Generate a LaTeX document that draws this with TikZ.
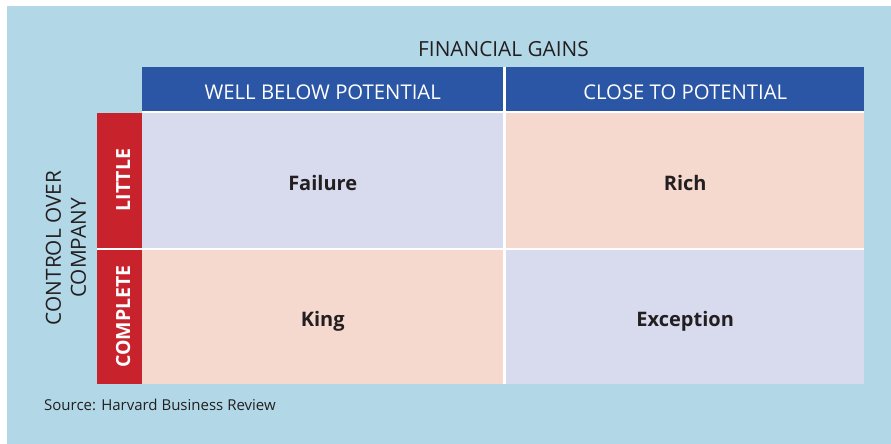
\documentclass[tikz,border=0pt]{standalone}
\usepackage{fontspec}
\setmainfont{Open Sans}
\definecolor{panelblue}{HTML}{B2D8E7}
\definecolor{headblue}{HTML}{2B56A6}
\definecolor{rowred}{HTML}{C8232C}
\definecolor{lavender}{HTML}{D8DBEE}
\definecolor{peach}{HTML}{F5D9CE}
\definecolor{ink}{HTML}{231F20}
\tikzset{
  box/.style={rectangle, inner sep=0pt, anchor=north west},
  celltext/.style={inner sep=0pt, anchor=base, text=ink, font=\fontsize{20}{24}\selectfont\bfseries},
  headtext/.style={inner sep=0pt, anchor=base, text=white, font=\fontsize{20.3}{24}\selectfont},
  rowtext/.style={inner sep=0pt, anchor=base, rotate=90, text=white, font=\fontsize{19.5}{22}\selectfont\bfseries},
  axislabel/.style={inner sep=0pt, text=ink, font=\fontsize{20.8}{25}\selectfont, align=center}
}
\begin{document}
\begin{tikzpicture}[x=1pt,y=-1pt]
\useasboundingbox (0,0) rectangle (891,444);
\fill[white] (0,0) rectangle (891,444);
\fill[panelblue] (7,6) rectangle (891,444);
% white rules between the blocks of the grid
\fill[white] (142,67) rectangle (864,384);
\fill[white] (97,113) rectangle (142,384);

% column headers
\node[box, fill=headblue, minimum width=361pt, minimum height=44pt] (h1) at (142,67) {};
\node[box, fill=headblue, minimum width=358pt, minimum height=44pt] (h2) at (506,67) {};
% row headers
\node[box, fill=rowred, minimum width=45pt, minimum height=135pt] (r1) at (97,113) {};
\node[box, fill=rowred, minimum width=45pt, minimum height=134pt] (r2) at (97,250) {};
% quadrant cells
\node[box, fill=lavender, minimum width=361pt, minimum height=135pt] (c11) at (142,113) {};
\node[box, fill=peach,    minimum width=358pt, minimum height=135pt] (c12) at (506,113) {};
\node[box, fill=peach,    minimum width=361pt, minimum height=134pt] (c21) at (142,250) {};
\node[box, fill=lavender, minimum width=358pt, minimum height=134pt] (c22) at (506,250) {};

% labels, set on their baselines
\node[axislabel, anchor=base] (fin) at (503.5,56.5) {FINANCIAL GAINS};
\node[axislabel, rotate=90] (ctrl) at (66,248) {CONTROL OVER\\COMPANY};
\node[headtext] (t1) at (h1.center |- 0,99.3) {WELL BELOW POTENTIAL};
\node[headtext] (t2) at (h2.center |- 0,99.3) {CLOSE TO POTENTIAL};
\node[rowtext] (tl) at (130,180) {LITTLE};
\node[rowtext] (tc) at (130,316.5) {COMPLETE};
\node[celltext] (fail) at (c11.center |- 0,190) {Failure};
\node[celltext] (rich) at (c12.center |- 0,190) {Rich};
\node[celltext] (king) at (c21.center |- 0,326) {King};
\node[celltext] (exc)  at (c22.center |- 0,326) {Exception};

% source line
\node[anchor=base west, inner sep=0pt, text=ink, font=\fontsize{15}{18}\selectfont] (src) at (44,410.5) {Source: Harvard Business Review};
\end{tikzpicture}
\end{document}
